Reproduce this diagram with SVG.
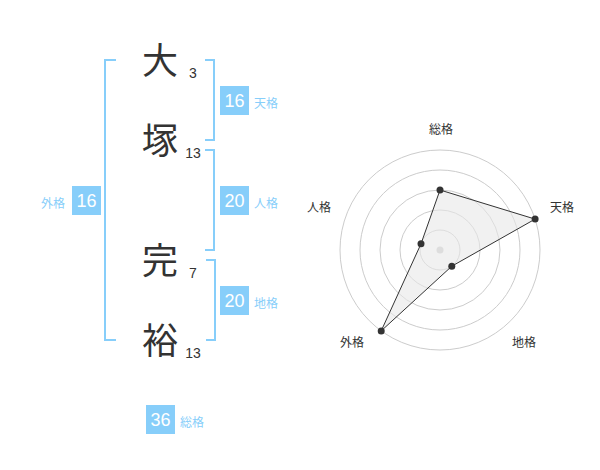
<svg xmlns="http://www.w3.org/2000/svg" width="600" height="470" viewBox="0 0 600 470">
<style>
.ch{font-family:"Noto Sans CJK JP","Noto Sans CJK SC",sans-serif;font-size:36px;fill:#333;text-anchor:middle}
.st{font-family:"Liberation Sans",Arial,sans-serif;font-size:14px;fill:#333;text-anchor:middle}
.br{fill:none;stroke:#87cefa;stroke-width:2}
.bx{fill:#87cefa}
.bn{font-family:"Liberation Sans",Arial,sans-serif;font-size:18px;fill:#fff;text-anchor:middle}
.bl{font-family:"Noto Sans CJK JP","Noto Sans CJK SC",sans-serif;font-size:12px;fill:#87cefa}
.ring{fill:none;stroke:#ccc;stroke-width:1}
.rl{font-family:"Noto Sans CJK JP","Noto Sans CJK SC",sans-serif;font-size:12px;fill:#333;text-anchor:middle}
.pt{fill:#333}
</style>
<rect width="600" height="470" fill="#fff"/>
<g id="name">
<text class="ch" x="160" y="74">大</text>
<text class="ch" x="160" y="154">塚</text>
<text class="ch" x="160" y="274">完</text>
<text class="ch" x="160" y="354">裕</text>
<text class="st" x="193" y="78">3</text>
<text class="st" x="193" y="158">13</text>
<text class="st" x="193" y="278">7</text>
<text class="st" x="193" y="358">13</text>
</g>
<g id="connectors">
<path class="br" d="M116,60 H105 V340 H116"/>
<path class="br" d="M205,60 H214 V140 H205"/>
<path class="br" d="M205,150 H214 V250 H205"/>
<path class="br" d="M206,260 H215 V340 H206"/>
</g>
<g id="tenkaku">
<rect class="bx" x="220" y="86" width="29" height="29"/>
<text class="bn" x="234.5" y="107">16</text>
<text class="bl" x="254" y="108">天格</text>
</g>
<g id="jinkaku">
<rect class="bx" x="220" y="186" width="29" height="29"/>
<text class="bn" x="234.5" y="207">20</text>
<text class="bl" x="254" y="208">人格</text>
</g>
<g id="chikaku">
<rect class="bx" x="220" y="286" width="29" height="29"/>
<text class="bn" x="234.5" y="307">20</text>
<text class="bl" x="254" y="308">地格</text>
</g>
<g id="gaikaku">
<rect class="bx" x="72" y="186" width="29" height="29"/>
<text class="bn" x="86.5" y="207">16</text>
<text class="bl" x="41" y="208">外格</text>
</g>
<g id="soukaku">
<rect class="bx" x="146" y="405" width="29" height="29"/>
<text class="bn" x="160.5" y="426">36</text>
<text class="bl" x="180" y="427">総格</text>
</g>
<g id="radar">
<circle class="ring" cx="440" cy="250" r="20"/>
<circle class="ring" cx="440" cy="250" r="40"/>
<circle class="ring" cx="440" cy="250" r="60"/>
<circle class="ring" cx="440" cy="250" r="80"/>
<circle class="ring" cx="440" cy="250" r="100"/>
<circle cx="440" cy="250" r="3.5" fill="#ccc"/>
<polygon points="440,190 535.1,219.1 451.8,266.2 381.2,330.9 421,243.8" fill="#e8e8e8" fill-opacity="0.6" stroke="#333" stroke-width="1"/>
<circle class="pt" cx="440" cy="190" r="3.5"/>
<circle class="pt" cx="535.1" cy="219.1" r="3.5"/>
<circle class="pt" cx="451.8" cy="266.2" r="3.5"/>
<circle class="pt" cx="381.2" cy="330.9" r="3.5"/>
<circle class="pt" cx="421" cy="243.8" r="3.5"/>
<text class="rl" x="441" y="134">総格</text>
<text class="rl" x="562" y="212">天格</text>
<text class="rl" x="524" y="347">地格</text>
<text class="rl" x="352" y="347">外格</text>
<text class="rl" x="319" y="212">人格</text>
</g>
</svg>
